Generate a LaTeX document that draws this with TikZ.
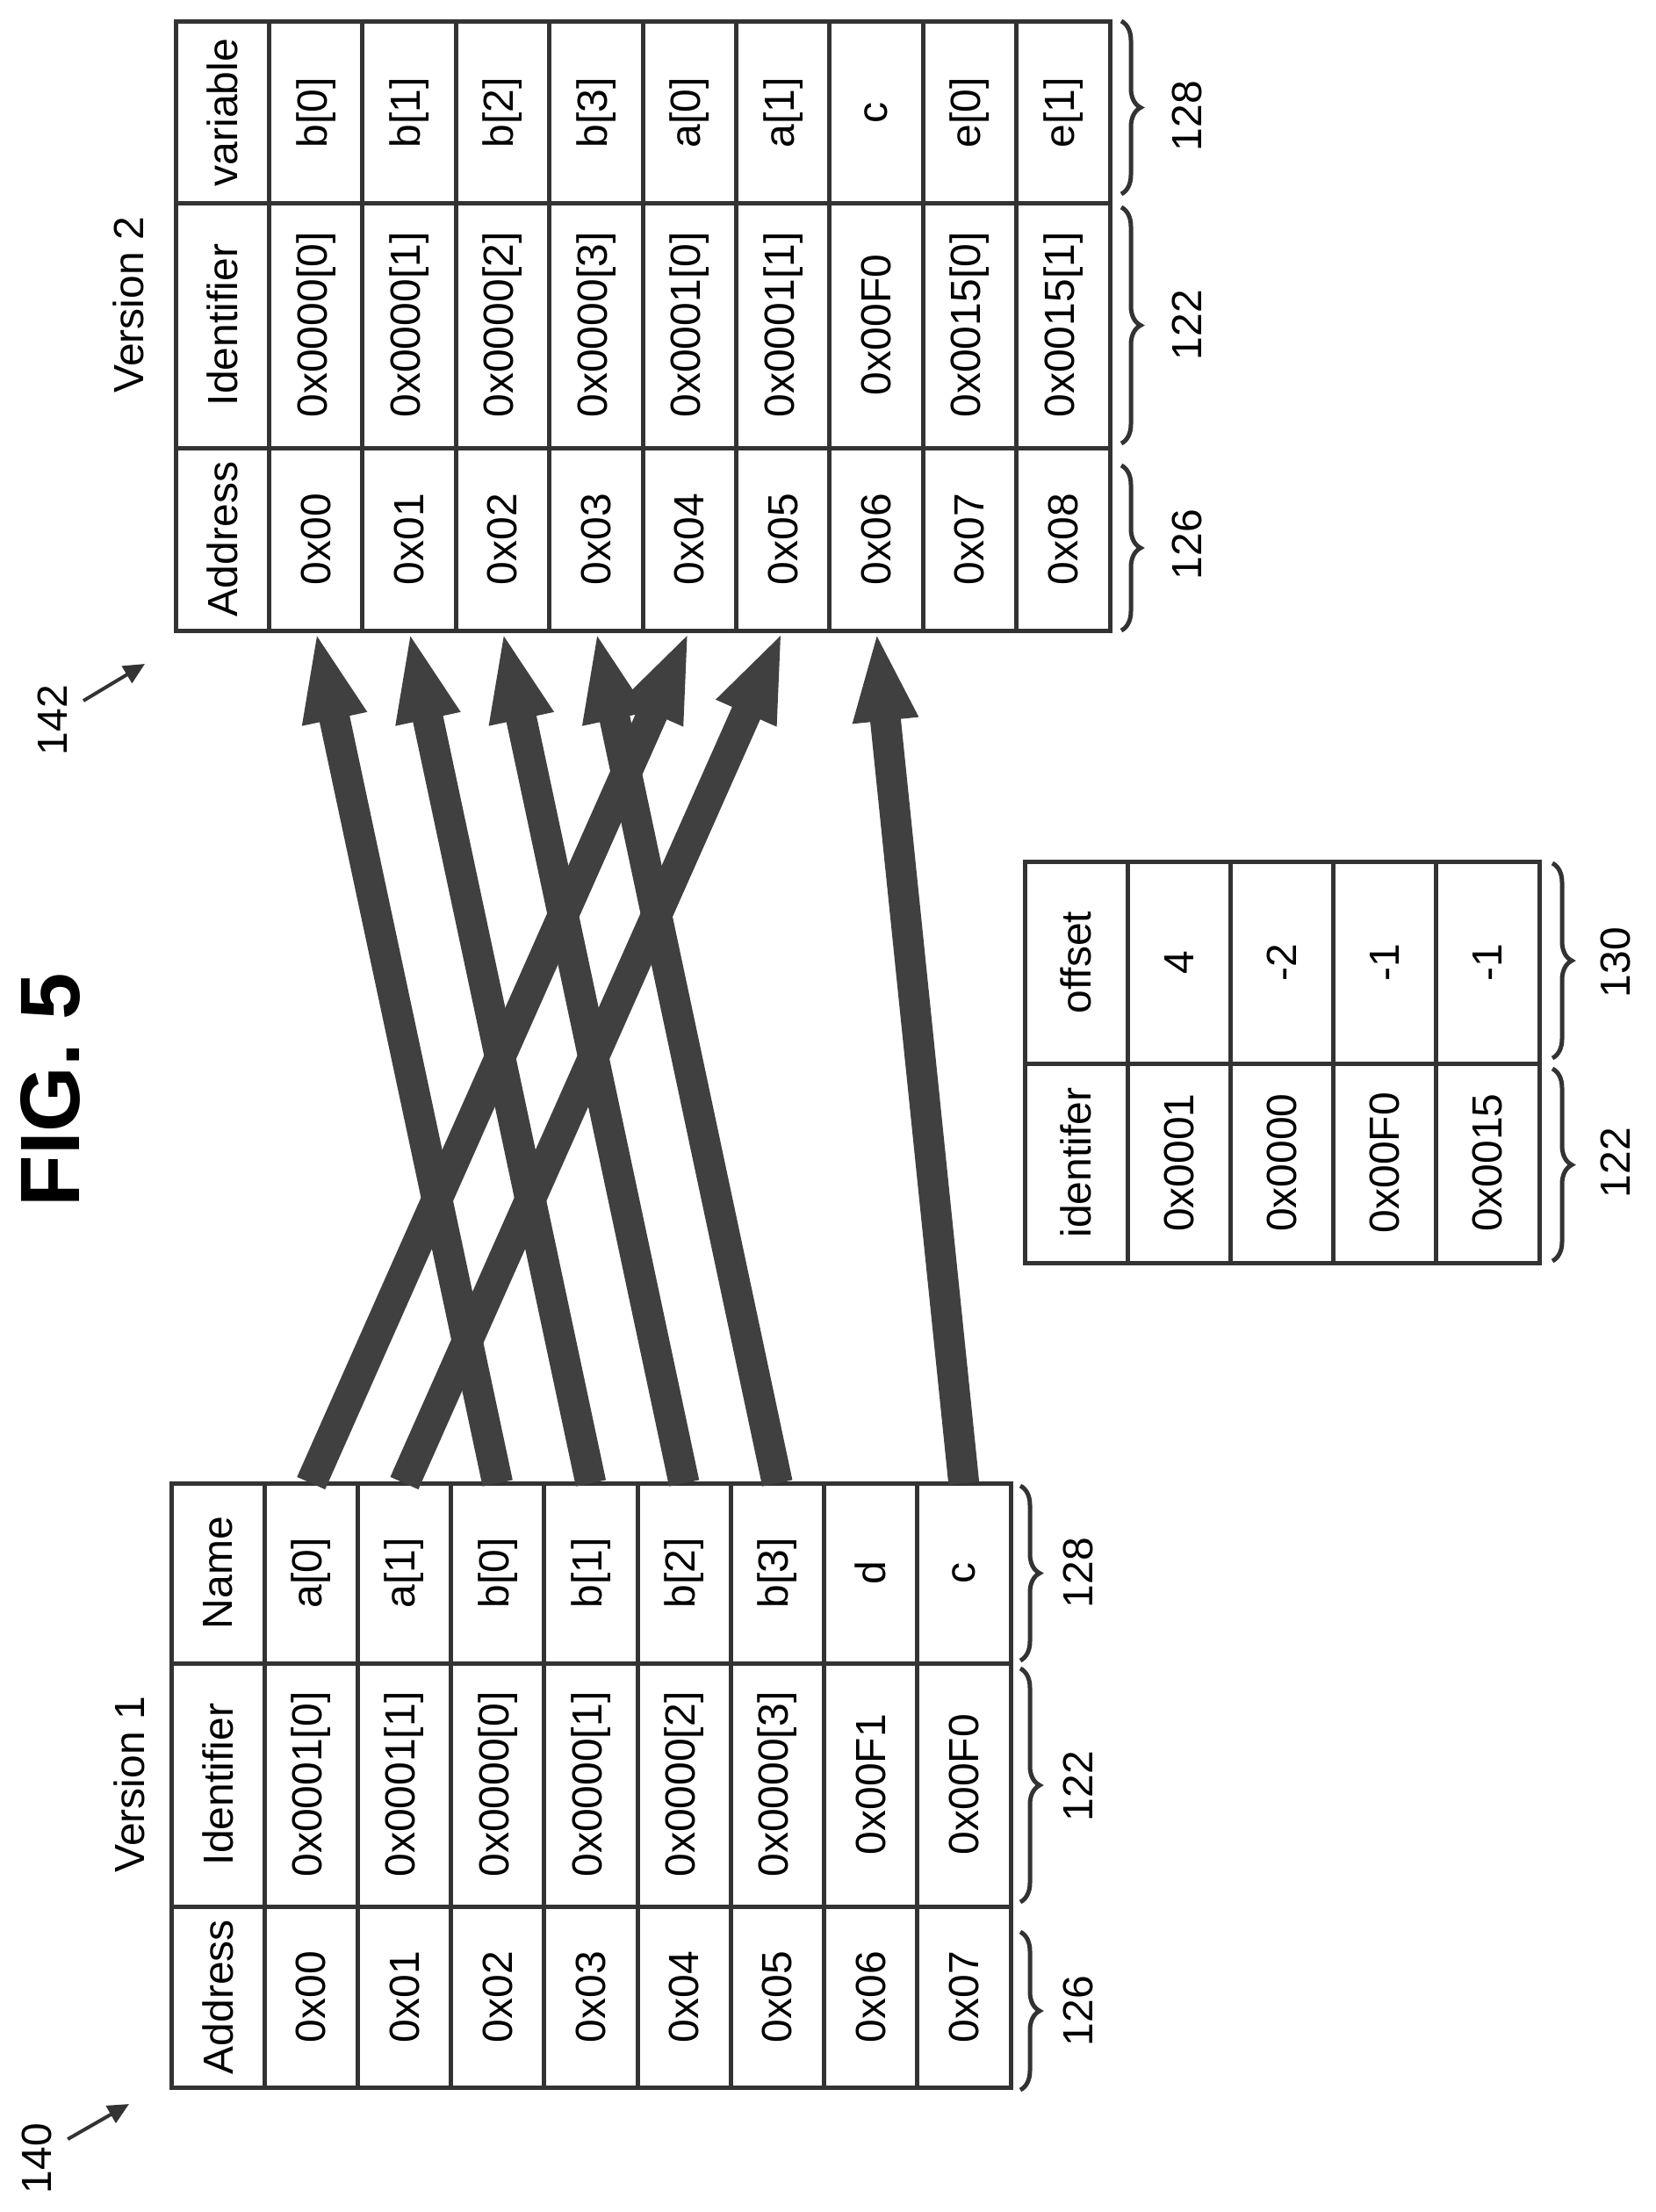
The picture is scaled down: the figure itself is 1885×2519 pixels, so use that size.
\documentclass[tikz,border=0pt]{standalone}
\usepackage{fontspec}
\setmainfont{Liberation Sans}
\usetikzlibrary{arrows.meta,decorations.pathreplacing}
\begin{document}
\begin{tikzpicture}[x=1pt,y=-1pt,
 tbl/.style={draw=black!80,line width=5pt},
 txt/.style={rotate=90,font=\fontsize{48}{50}\selectfont,inner sep=0pt},
 big/.style={draw=black!75,line width=35pt,-{Triangle[width=67pt,length=103pt]}},
 br/.style={draw=black!80,line width=5pt,decorate,decoration={brace,amplitude=22pt}},
 ref/.style={draw=black!80,line width=4pt,-{Triangle[width=22pt,length=24pt]}}]
\useasboundingbox (0,0) rectangle (1885,2519);
\node[rotate=90,font=\bfseries\fontsize{96}{100}\selectfont] (fig) at (57,1241) {FIG. 5};
% ---------- Version 1 ----------
\draw[tbl] (195,1689) rectangle (1151,2377);
\foreach \k in {1,...,8} \draw[tbl] ({195+\k*106.2},1689) -- ({195+\k*106.2},2377);
\draw[tbl] (195,1894) -- (1151,1894);
\draw[tbl] (195,2171) -- (1151,2171);
\foreach \a/\b/\c [count=\i from 0] in {Address/Identifier/Name,0x00/0x0001[0]/a[0],0x01/0x0001[1]/a[1],0x02/0x0000[0]/b[0],0x03/0x0000[1]/b[1],0x04/0x0000[2]/b[2],0x05/0x0000[3]/b[3],0x06/0x00F1/d,0x07/0x00F0/c}{
  \node[txt] (v1a\i) at ({195+(\i+0.5)*106.2},2274) {\a};
  \node[txt] (v1b\i) at ({195+(\i+0.5)*106.2},2032) {\b};
  \node[txt] (v1c\i) at ({195+(\i+0.5)*106.2},1791) {\c};
  \coordinate (s\i) at ({195+(\i+0.5)*106.2},1689);
}
\node[txt] (ver1) at (147,2032) {Version 1};
\draw[br] (1162,1692) -- (1162,1891);
\draw[br] (1162,1900) -- (1162,2166);
\draw[br] (1162,2200) -- (1162,2380);
\node[txt] (l128a) at (1228,1791) {128};
\node[txt] (l122a) at (1228,2034) {122};
\node[txt] (l126a) at (1228,2290) {126};
% ---------- Version 2 ----------
\draw[tbl] (200,24) rectangle (1264,718);
\foreach \k in {1,...,9} \draw[tbl] ({200+\k*106.4},24) -- ({200+\k*106.4},718);
\draw[tbl] (200,231) -- (1264,231);
\draw[tbl] (200,510) -- (1264,510);
\foreach \a/\b/\c [count=\i from 0] in {Address/Identifier/variable,0x00/0x0000[0]/b[0],0x01/0x0000[1]/b[1],0x02/0x0000[2]/b[2],0x03/0x0000[3]/b[3],0x04/0x0001[0]/a[0],0x05/0x0001[1]/a[1],0x06/0x00F0/c,0x07/0x0015[0]/e[0],0x08/0x0015[1]/e[1]}{
  \node[txt] (v2a\i) at ({200+(\i+0.5)*106.4},614) {\a};
  \node[txt] (v2b\i) at ({200+(\i+0.5)*106.4},370) {\b};
  \node[txt] (v2c\i) at ({200+(\i+0.5)*106.4},128) {\c};
  \coordinate (t\i) at ({200+(\i+0.5)*106.4},718);
}
\node[txt] (ver2) at (146,347) {Version 2};
\draw[br] (1277,24) -- (1277,221);
\draw[br] (1277,236) -- (1277,505);
\draw[br] (1277,530) -- (1277,718);
\node[txt] (l128b) at (1352,132) {128};
\node[txt] (l122b) at (1352,370) {122};
\node[txt] (l126b) at (1352,620) {126};
% ---------- offset table ----------
\draw[tbl] (1167,981) rectangle (1753,1438);
\foreach \k in {1,...,4} \draw[tbl] ({1167+\k*117.2},981) -- ({1167+\k*117.2},1438);
\draw[tbl] (1167,1211) -- (1753,1211);
\foreach \a/\b [count=\i from 0] in {identifer/offset,0x0001/4,0x0000/-2,0x00F0/-1,0x0015/-1}{
  \node[txt] (oa\i) at ({1167+(\i+0.5)*117.2},1324) {\a};
  \node[txt] (ob\i) at ({1167+(\i+0.5)*117.2},1096) {\b};
}
\draw[br] (1768,983) -- (1768,1205);
\draw[br] (1768,1217) -- (1768,1436);
\node[txt] (l130) at (1840,1096) {130};
\node[txt] (l122c) at (1840,1324) {122};
% ---------- mapping arrows ----------
\draw[big] (s1) -- (t5);
\draw[big] (s2) -- (t6);
\draw[big] (s3) -- (t1);
\draw[big] (s4) -- (t2);
\draw[big] (s5) -- (t3);
\draw[big] (s6) -- (t4);
\draw[big] (s8) -- (t7);
% ---------- reference numerals ----------
\node[txt] (r142) at (60,820) {142};
\coordinate (p142) at (165,756);
\draw[ref] (r142.south) ++(18,-22) -- (p142);
\node[txt] (r140) at (42,2458) {140};
\coordinate (p140) at (147,2396);
\draw[ref] (r140.south) ++(18,-22) -- (p140);
\end{tikzpicture}
\end{document}
